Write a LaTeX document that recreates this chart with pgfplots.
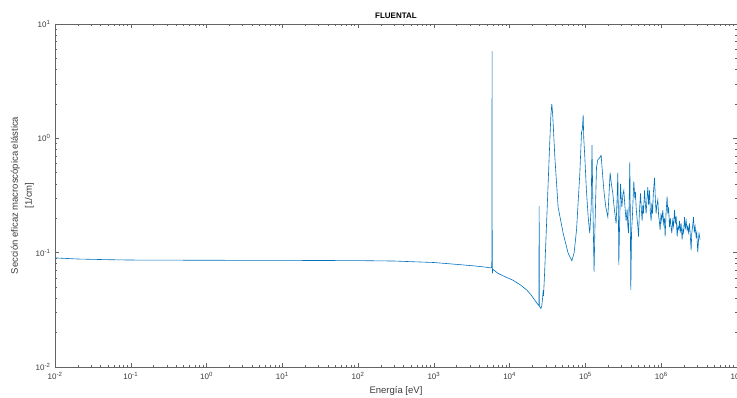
\documentclass[border=0pt]{standalone}
\usepackage{pgfplots}
\pgfplotsset{compat=1.18}
\usepackage{fontspec}
\setmainfont{Liberation Sans}
\definecolor{mblue}{RGB}{0,114,189}
\definecolor{axgray}{RGB}{100,100,100}
\definecolor{txtgray}{RGB}{60,60,60}
\begin{document}
\begin{tikzpicture}
\useasboundingbox (-55pt,-31pt) rectangle (682pt,367pt);
\begin{axis}[
  at={(0pt,0pt)}, anchor=south west,
  width=682pt, height=343pt, scale only axis,
  xmode=log, ymode=log,
  xmin=1e-2, xmax=1e7, ymin=1e-2, ymax=1e1,
  xtick={1e-2,1e-1,1,1e1,1e2,1e3,1e4,1e5,1e6,1e7},
  ytick={1e-2,1e-1,1,1e1},
  tick align=inside,
  major tick length=4pt, minor tick length=2.5pt,
  axis line style={axgray, line width=0.6pt},
  every tick/.style={axgray, line width=0.5pt},
  tick label style={font=\fontsize{8}{9}\selectfont, text=txtgray},
  xticklabel={\pgfmathtruncatemacro{\e}{round(\tick/ln(10))}10\textsuperscript{\e}},
  yticklabel={\pgfmathtruncatemacro{\e}{round(\tick/ln(10))}10\textsuperscript{\e}},
  xticklabel style={anchor=north, yshift=-2pt},
  yticklabel style={anchor=east, xshift=-1pt},
  title={FLUENTAL},
  title style={font=\bfseries\fontsize{8}{9}\selectfont, text=black, at={(axis description cs:0.5,1)}, anchor=center, yshift=2pt},
  xlabel={Energía [eV]},
  xlabel style={font=\fontsize{9.5}{11}\selectfont, text=txtgray, at={(axis description cs:0.5,0)}, anchor=center, yshift=-24pt},
  ylabel={\begin{tabular}{@{}c@{}}Sección eficaz macroscópica elástica\\ {[1/cm]}\end{tabular}},
  ylabel style={font=\fontsize{9.5}{14}\selectfont, text=txtgray, at={(axis description cs:0,0.5)}, anchor=center, yshift=33pt},
  clip=true,
]
\addplot[mblue, line width=0.6pt] coordinates {
(1e-2,0.0900) (2e-2,0.0880) (5e-2,0.0868) (1e-1,0.0862) (1,0.0858) (10,0.0856) (100,0.0852) (300,0.0845)
(1000,0.0820) (2000,0.0790) (3500,0.0765) (5000,0.0745) (5600,0.0735) (5750,0.0745)
(5800,0.0780) (5830,0.0950) (5845,0.30) (5860,5.8) (5875,0.30) (5890,0.075) (5920,0.066)
(6000,0.0715) (7000,0.0660) (8500,0.0620) (1.1e4,0.0575) (1.4e4,0.0520) (1.69e4,0.0470) (1.9e4,0.0430)
(2.14e4,0.0385) (2.3e4,0.0360) (2.43e4,0.0345) (2.45e4,0.256) (2.47e4,0.0340) (2.58e4,0.0325) (2.65e4,0.0340)
(2.72e4,0.0400) (2.77e4,0.0470) (2.80e4,0.0420) (2.9e4,0.0700) (3.07e4,0.18) (3.32e4,0.68) (3.5e4,1.6)
(3.6e4,2.0) (3.7e4,1.6) (3.95e4,0.68) (4.36e4,0.25) (5.08e4,0.148) (5.91e4,0.099) (6.62e4,0.085)
(7.1e4,0.100) (7.64e4,0.16) (8.44e4,0.50) (8.88e4,1.13) (9.1e4,1.20) (9.33e4,1.60) (9.5e4,1.00)
(9.82e4,0.68) (1.03e5,0.35) (1.09e5,0.20) (1.14e5,0.148) (1.19e5,0.25) (1.22e5,0.87) (1.25e5,0.30)
(1.28e5,0.12) (1.30e5,0.068) (1.33e5,0.15) (1.40e5,0.56) (1.46e5,0.65) (1.549e5,0.68)
(1.611e5,0.71) (1.697e5,0.45) (1.776e5,0.32) (1.858e5,0.25) (1.975e5,0.205) (2.118e5,0.50)
(2.197e5,0.40) (2.299e5,0.33) (2.406e5,0.24) (2.541e5,0.18) (2.619e5,0.30) (2.675e5,0.50)
(2.725e5,0.20) (2.758e5,0.078) (2.809e5,0.15) (2.905e5,0.40) (2.967e5,0.30) (3.022e5,0.25)
(3.115e5,0.32) (3.211e5,0.35) (3.310e5,0.26) (3.443e5,0.19) (3.549e5,0.24) (3.626e5,0.17)
(3.704e5,0.148) (3.783e5,0.30) (3.853e5,0.62) (3.911e5,0.20) (3.971e5,0.047) (4.057e5,0.15)
(4.182e5,0.22) (4.259e5,0.30) (4.350e5,0.42) (4.484e5,0.30) (4.567e5,0.34) (4.666e5,0.25)
(4.794e5,0.20) (4.913e5,0.17) (5.018e5,0.138) (5.142e5,0.22) (5.252e5,0.28) (5.333e5,0.33)
(5.464e5,0.24) (5.598e5,0.19) (5.719e5,0.26) (5.824e5,0.22) (6.022e5,0.35) (6.169e5,0.27)
(6.321e5,0.22) (6.496e5,0.30) (6.655e5,0.375) (6.819e5,0.26) (7.008e5,0.35) (7.180e5,0.23)
(7.357e5,0.19) (7.516e5,0.27) (7.677e5,0.22) (7.867e5,0.33) (8.158e5,0.45) (8.359e5,0.30)
(8.565e5,0.22) (8.750e5,0.26) (9.018e5,0.29) (9.241e5,0.21) (9.439e5,0.19) (9.672e5,0.158)
(9.940e5,0.22) (1.018e6,0.19) (1.050e6,0.235) (1.076e6,0.18) (1.102e6,0.20) (1.126e6,0.138)
(1.157e6,0.22) (1.196e6,0.31) (1.222e6,0.22) (1.252e6,0.25) (1.287e6,0.167) (1.319e6,0.20)
(1.347e6,0.17) (1.380e6,0.148) (1.414e6,0.19) (1.449e6,0.17) (1.498e6,0.235) (1.535e6,0.18)
(1.573e6,0.21) (1.622e6,0.138) (1.661e6,0.17) (1.707e6,0.16) (1.744e6,0.19) (1.786e6,0.15)
(1.830e6,0.18) (1.887e6,0.13) (1.928e6,0.16) (1.975e6,0.15) (2.030e6,0.205) (2.079e6,0.16)
(2.131e6,0.19) (2.197e6,0.158) (2.244e6,0.17) (2.299e6,0.15) (2.363e6,0.18) (2.421e6,0.14)
(2.480e6,0.105) (2.533e6,0.15) (2.595e6,0.17) (2.667e6,0.205) (2.733e6,0.15) (2.800e6,0.17)
(2.886e6,0.138) (2.949e6,0.15) (2.994e6,0.12) (3.039e6,0.101) (3.096e6,0.125) (3.152e6,0.15)
(3.201e6,0.138) (3.260e6,0.13)
};
\end{axis}
\end{tikzpicture}
\end{document}
